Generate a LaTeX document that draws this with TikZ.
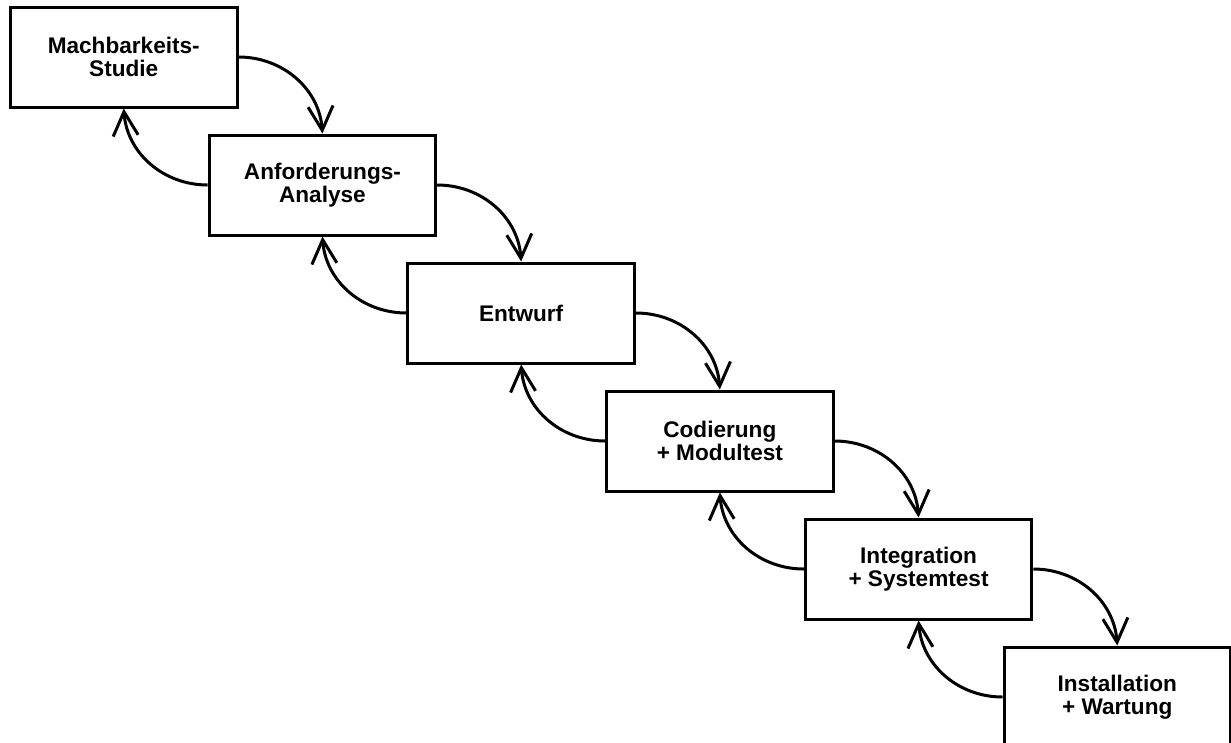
\documentclass[tikz,border=0pt]{standalone}
\usepackage{fontspec}
\setmainfont{Liberation Sans}
\usetikzlibrary{arrows.meta}

\begin{document}
\begin{tikzpicture}[x=1pt,y=-1pt,
  phase/.style={draw=black, line width=3pt, rectangle, fill=white,
    minimum width=226.5pt, minimum height=100pt, inner sep=0pt,
    align=center, font=\fontsize{22.6}{23}\selectfont\bfseries},
  flow/.style={line width=3pt,
    -{Straight Barb[length=24pt,width=25pt,line width=3pt]}}]
  \useasboundingbox (0,0) rectangle (1231,742);
  \clip (0,0) rectangle (1231,742);

  % phases of the waterfall model, stepping down to the right
  \node[phase] (p1) at (123.75,57)            {Machbarkeits-\\Studie};
  \node[phase] (p2) at (123.75+198.7,57+128)  {Anforderungs-\\Analyse};
  \node[phase] (p3) at (123.75+2*198.7,57+2*128) {Entwurf};
  \node[phase] (p4) at (123.75+3*198.7,57+3*128) {Codierung\\+ Modultest};
  \node[phase] (p5) at (123.75+4*198.7,57+4*128) {Integration\\+ Systemtest};
  \node[phase] (p6) at (123.75+5*198.7,57+5*128) {Installation\\+ Wartung};

  % forward transitions and feedback loops
  \foreach \a/\b in {p1/p2,p2/p3,p3/p4,p4/p5,p5/p6}{
    \draw[flow] (\a.east) to[out=0,in=94] (\b.north);
    \draw[flow] (\b.west) to[out=180,in=-86] (\a.south);
  }
\end{tikzpicture}
\end{document}
